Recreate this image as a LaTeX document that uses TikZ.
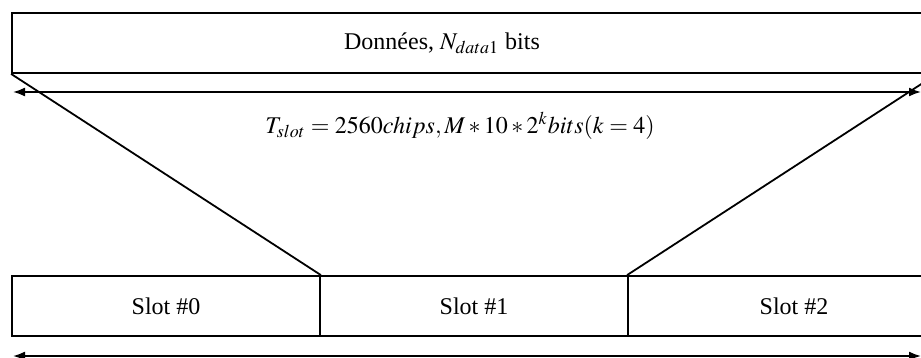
\documentclass[tikz,border=0pt]{standalone}
\usepackage{mathptmx}
\usepackage{fontspec}
\setmainfont{Liberation Serif}
\usetikzlibrary{arrows.meta}
\begin{document}
\begin{tikzpicture}[
x=0.5pt, y=-0.5pt, % 1 unit = 1 pixel of the frame
>={Latex[length=6pt,width=4.5pt]},
every node/.style={font=\fontsize{12}{14}\selectfont},
box/.style={draw, line width=0.9pt, minimum height=30pt, inner sep=0pt},
slot/.style={box, minimum width=154pt},
dim/.style={<->, line width=0.9pt}
]
\useasboundingbox (0,0) rectangle (921,358);

% --- Trame de donnees ---
\node[box, minimum width=462pt] (data) at (474,43) {};
\node (datalabel) at (442,43) {Données, $N_{data1}$ bits};

% --- Duree d'un slot ---
\coordinate (topleft) at (13,92);
\coordinate (topright) at (921,92);
\draw[dim] (topleft) -- (topright);
\node (tslot) at (460,126) {$T_{slot} = 2560 chips, M*10*2^{k} bits (k=4)$};

% --- Les trois slots ---
\node[slot] (s0) at (166,306) {Slot \#0};
\node[slot] (s1) at (474,306) {Slot \#1};
\node[slot, minimum width=166pt] (s2) at (794,306) {Slot \#2};

% Lignes de zoom
\draw[line width=0.9pt] (data.south west) -- (s0.north east);
\draw[line width=0.9pt] (data.south east) -- (s2.north west);

% --- Duree totale ---
\coordinate (botleft) at (13,356);
\coordinate (botright) at (921,356);
\draw[dim] (botleft) -- (botright);

\end{tikzpicture}
\end{document}
